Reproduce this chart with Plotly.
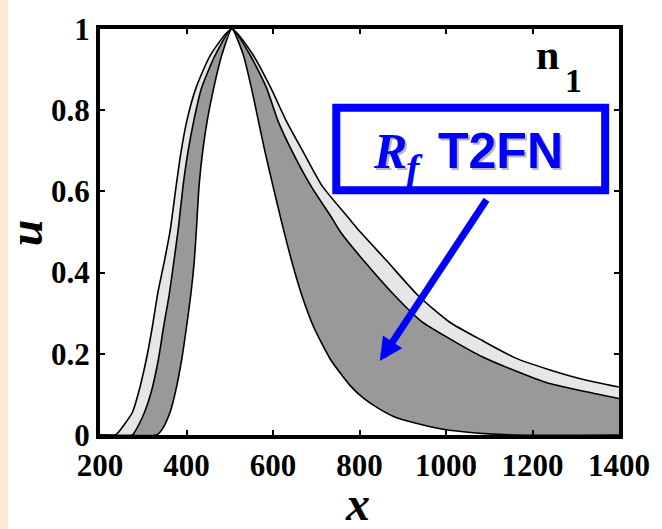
import plotly.graph_objects as go

# Outer boundary (light grey band outer edge)
outer_x = [200, 235, 241, 255, 275, 289, 307, 321, 333, 349, 362, 376, 387, 401, 422, 456, 505,
           554, 595, 630, 671, 714, 776, 801, 863, 936, 1007, 1085, 1160, 1235, 1313, 1400]
outer_u = [0, 0, 0.005, 0.024, 0.056, 0.104, 0.186, 0.266, 0.346, 0.429, 0.502, 0.613, 0.695, 0.775, 0.855, 0.937, 1,
           0.936, 0.855, 0.775, 0.695, 0.613, 0.533, 0.501, 0.429, 0.343, 0.279, 0.232, 0.19, 0.162, 0.138, 0.118]

# Middle boundary (light / dark grey border)
middle_x = [200, 275, 280, 289, 303, 318, 335, 347, 360, 371, 381, 392, 403, 417, 435, 467, 505,
            547, 585, 611, 646, 688, 737, 756, 810, 879, 943, 1007, 1085, 1160, 1235, 1313, 1400]
middle_u = [0, 0, 0.007, 0.024, 0.056, 0.104, 0.186, 0.266, 0.346, 0.429, 0.508, 0.613, 0.695, 0.775, 0.855, 0.937, 1,
            0.936, 0.855, 0.775, 0.695, 0.613, 0.533, 0.5, 0.429, 0.346, 0.28, 0.238, 0.192, 0.158, 0.128, 0.109, 0.09]

# Inner boundary (dark grey band inner edge)
inner_x = [200, 330, 337, 349, 362, 374, 389, 400, 410, 418, 423, 429, 437, 448, 463, 482, 505,
           531, 550, 566, 582, 600, 618, 643, 666, 694, 733, 779, 810, 840, 880, 931, 993, 1069, 1160, 1400]
inner_u = [0, 0, 0.005, 0.024, 0.056, 0.104, 0.186, 0.266, 0.346, 0.429, 0.508, 0.613, 0.695, 0.775, 0.855, 0.937, 1,
           0.937, 0.855, 0.775, 0.695, 0.613, 0.533, 0.429, 0.346, 0.266, 0.186, 0.121, 0.09, 0.068, 0.045, 0.029,
           0.014, 0.005, 0, 0]

x_ticks = [200, 400, 600, 800, 1000, 1200, 1400]
y_ticks = [0, 0.2, 0.4, 0.6, 0.8, 1]
y_ticktext = ["0", "0.2", "0.4", "0.6", "0.8", "1"]

arrow_tip = (847, 0.182)
arrow_tail = (1096, 0.583)

fig = go.Figure()
line = dict(color="black", width=1.6, shape="spline", smoothing=0.6)
fig.add_trace(go.Scatter(x=outer_x, y=outer_u, mode="lines", line=line,
                         fill="tozeroy", fillcolor="#E6E6E6", hoverinfo="skip"))
fig.add_trace(go.Scatter(x=middle_x, y=middle_u, mode="lines", line=line,
                         fill="tozeroy", fillcolor="#999999", hoverinfo="skip"))
fig.add_trace(go.Scatter(x=inner_x, y=inner_u, mode="lines", line=line,
                         fill="tozeroy", fillcolor="white", hoverinfo="skip"))

W, H = 662, 529
L, R, T, B = 100, 37, 22, 94
pw, ph = W - L - R, H - T - B


def px(xp):
    return (xp - L) / pw


def py(yp):
    return (H - B - yp) / ph


serif = "Liberation Serif"
axis_common = dict(showgrid=False, zeroline=False, showline=True, linecolor="black", linewidth=4,
                   mirror="ticks", ticks="inside", ticklen=5, tickwidth=2, tickcolor="black",
                   tickfont=dict(family=serif, size=31, color="black", weight="bold"))
fig.update_xaxes(range=[200, 1400], tickvals=x_ticks, ticktext=[str(v) for v in x_ticks],
                 ticklabelstandoff=0, **axis_common)
fig.update_yaxes(range=[0, 1], tickvals=y_ticks, ticktext=y_ticktext,
                 ticklabelstandoff=0, **axis_common)

shapes = [
    dict(type="rect", xref="paper", yref="paper", x0=-0.2, x1=px(7), y0=-0.3, y1=1.1,
         fillcolor="#F9EBD3", line=dict(width=0), layer="below"),
    dict(type="rect", xref="paper", yref="paper", x0=px(339), x1=px(611), y0=py(186), y1=py(102),
         fillcolor="white", line=dict(color="#0000FF", width=8), layer="above"),
]


def note(xp, yp, text, **kw):
    d = dict(xref="paper", yref="paper", x=px(xp), y=py(yp), text=text, showarrow=False,
             xanchor="center", yanchor="middle")
    d.update(kw)
    return d


annotations = [
    note(360, 505, "x", font=dict(family=serif, size=48, color="black", style="italic", weight="bold")),
    note(25, 229, "u", textangle=-90,
         font=dict(family=serif, size=48, color="black", style="italic", weight="bold")),
    note(553, 48, "n", font=dict(family=serif, size=42, color="black", weight="bold")),
    note(579, 74, "1", font=dict(family=serif, size=34, color="black", weight="bold")),
    # shadows
    note(395, 148, "R", font=dict(family=serif, size=50, color="#B8B8B8", style="italic", weight="bold")),
    note(507, 148, "T2FN", font=dict(family="Liberation Sans", size=50, color="#B8B8B8", weight="bold")),
    # text
    note(393, 146, "R", font=dict(family=serif, size=50, color="#0000FF", style="italic", weight="bold")),
    note(418, 164, "f", font=dict(family=serif, size=40, color="#0000FF", style="italic", weight="bold")),
    note(505, 146, "T2FN", font=dict(family="Liberation Sans", size=50, color="#0000FF", weight="bold")),
    dict(x=arrow_tip[0], y=arrow_tip[1], ax=arrow_tail[0], ay=arrow_tail[1], xref="x", yref="y",
         axref="x", ayref="y", text="", showarrow=True, arrowhead=2, arrowsize=0.66,
         arrowwidth=7, arrowcolor="#0000FF", standoff=0),
]

fig.update_layout(width=W, height=H, margin=dict(l=L, r=R, t=T, b=B),
                  paper_bgcolor="white", plot_bgcolor="white", showlegend=False,
                  shapes=shapes, annotations=annotations)
fig.write_html("out.html")
